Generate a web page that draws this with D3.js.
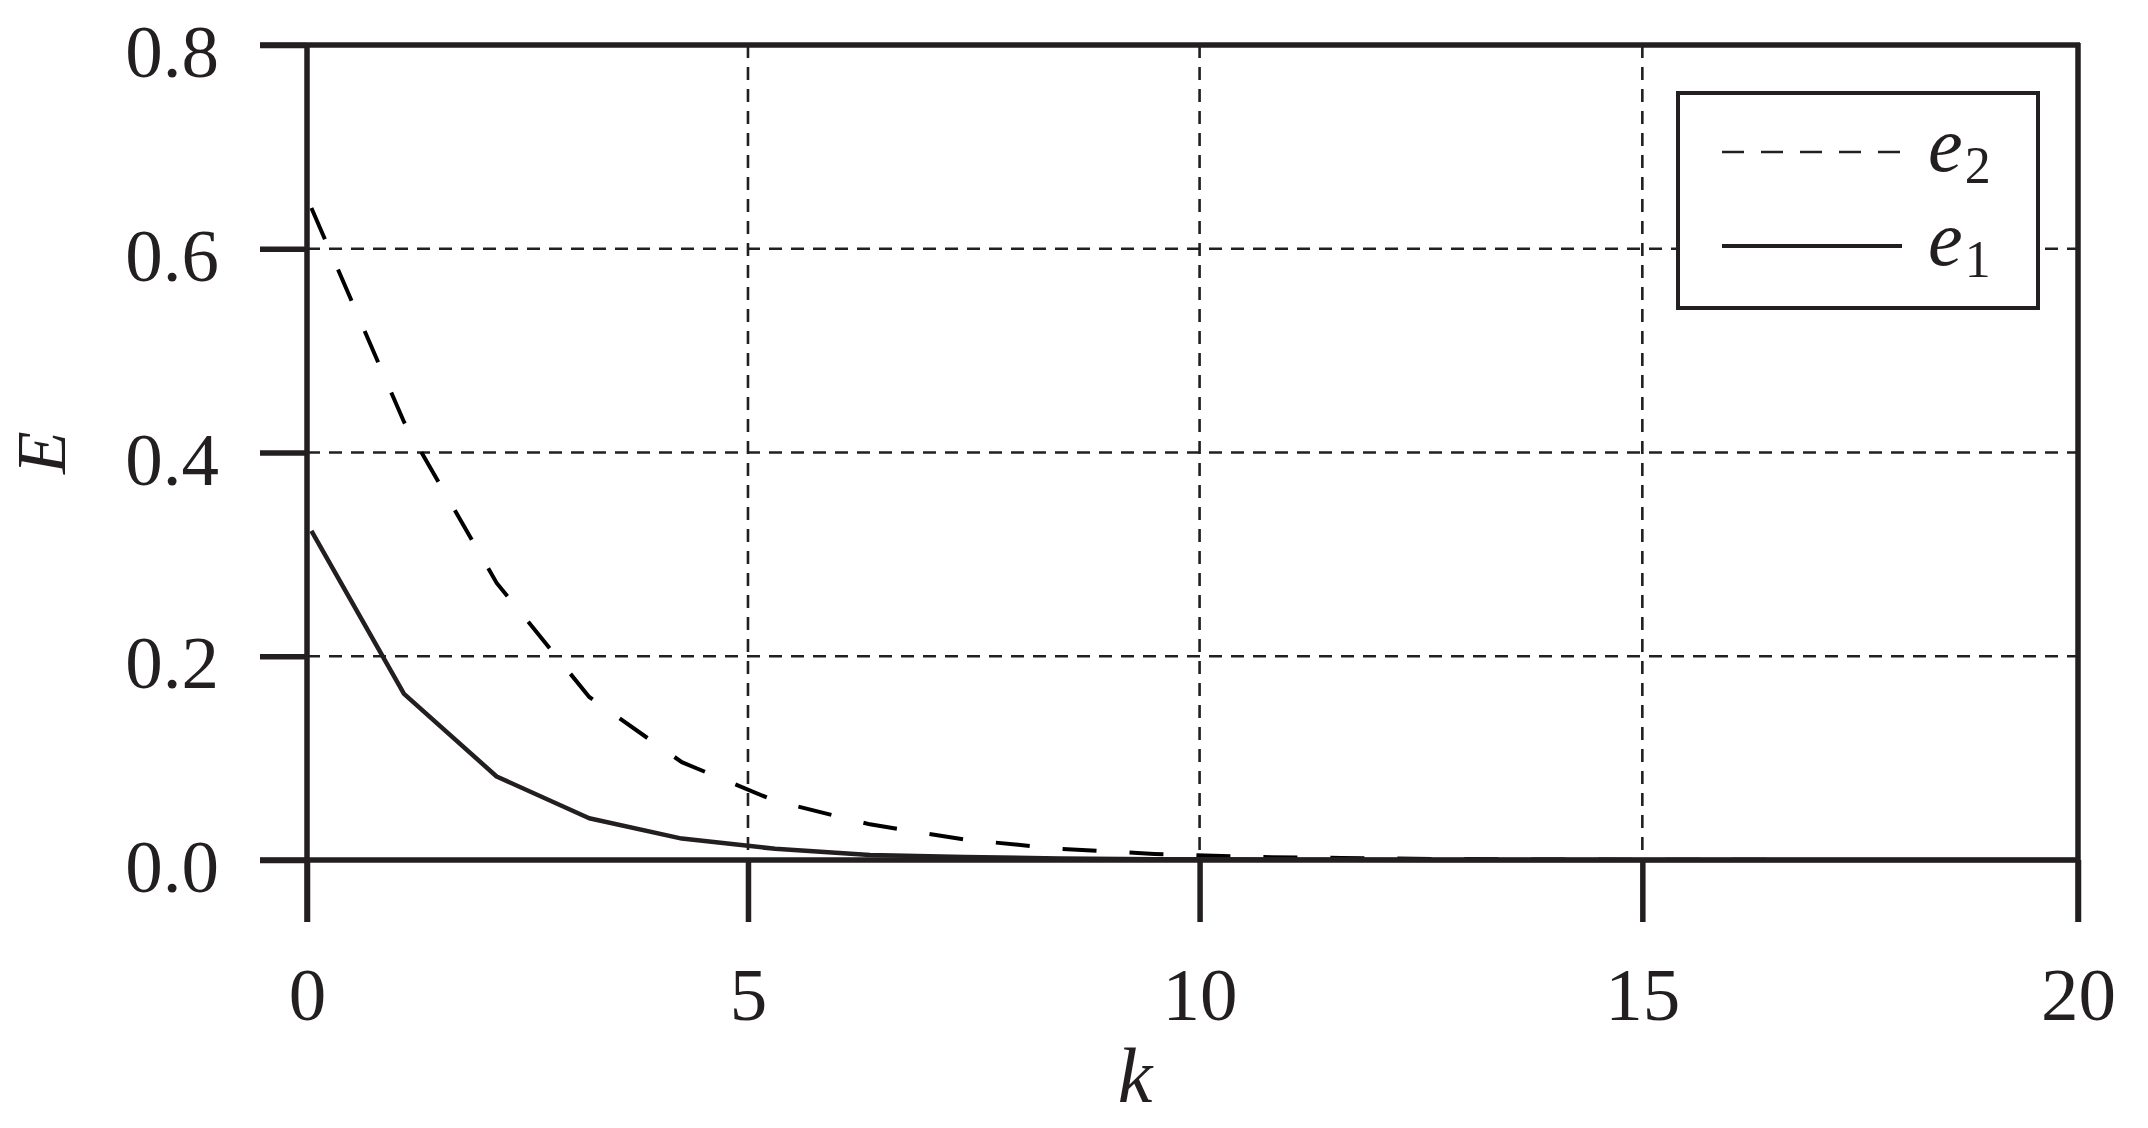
<!DOCTYPE html>
<html>
<head>
<meta charset="utf-8">
<script src="https://cdn.jsdelivr.net/npm/d3@7"></script>
<style>
    body { margin: 0; background: #fff; }
    text { font-family: 'Liberation Serif', 'Times New Roman', serif; fill: #231f20; }
</style>
</head>
<body>
<div id="chart"></div>
<script>
// Data
var kValues  = [0.05, 1.1, 2.15, 3.2, 4.25, 5.3, 6.35, 7.4, 8.45, 9.5, 10.55, 11.6, 12.65, 13.7, 14.75, 15.8, 16.85, 17.9, 18.95, 20];
var e1Values = [0.323, 0.163, 0.082, 0.041, 0.021, 0.011, 0.005, 0.003, 0.0015, 0.0008, 0.0004, 0.0002, 0.0001, 0.0001, 0, 0, 0, 0, 0, 0];
var e2Values = [0.64, 0.43, 0.272, 0.160, 0.096, 0.058, 0.035, 0.020, 0.011, 0.006, 0.003, 0.002, 0.001, 0.0006, 0.0003, 0.0002, 0.0001, 0, 0, 0];
var xTicks = [0, 5, 10, 15, 20];
var yTicks = [0, 0.2, 0.4, 0.6, 0.8];
var xGrid = [5, 10, 15];
var yGrid = [0.2, 0.4, 0.6];
var legendNames = ['2', '1'];   // subscripts of e

var ink = '#231f20';

//   Base chart space
var margin = {top: 45, right: 70, bottom: 268, left: 307},
width = 2148 - margin.left - margin.right,
height = 1128 - margin.top - margin.bottom;

var svg = d3.select('#chart').append('svg')
    .attr('width', width + margin.left + margin.right)
    .attr('height', height + margin.top + margin.bottom)
    .append('g')
    .attr('transform', 'translate(' + margin.left + ',' + margin.top + ')');

// Scales -- the original's x grid is not quite evenly spaced, so piecewise
var xScale = d3.scaleLinear()
    .domain(xTicks)
    .range([0, 0.249, 0.504, 0.754, 1].map(function(f) { return f * width; }));
var yScale = d3.scaleLinear().domain([0, 0.8]).range([height, 0]);

// Grid (dashed)
svg.selectAll('.hgrid')
    .data(yGrid)
    .enter()
    .append('line')
    .attr('class', 'hgrid')
    .attr('x1', xScale(0)).attr('x2', xScale(20))
    .attr('y1', function(d) { return yScale(d); })
    .attr('y2', function(d) { return yScale(d); })
    .style('stroke', ink).style('stroke-width', 2.6)
    .style('stroke-dasharray', '13,9');

svg.selectAll('.vgrid')
    .data(xGrid)
    .enter()
    .append('line')
    .attr('class', 'vgrid')
    .attr('y1', yScale(0.8)).attr('y2', yScale(0))
    .attr('x1', function(d) { return xScale(d); })
    .attr('x2', function(d) { return xScale(d); })
    .style('stroke', ink).style('stroke-width', 2.6)
    .style('stroke-dasharray', '13,9');

// Lines
var e1 = kValues.map(function(k, i) { return {k: k, v: e1Values[i]}; });
var e2 = kValues.map(function(k, i) { return {k: k, v: e2Values[i]}; });

var line = d3.line()
    .x(function(d) { return xScale(d.k); })
    .y(function(d) { return yScale(d.v); });

svg.append('path')
    .datum(e2)
    .attr('d', line)
    .style('fill', 'none').style('stroke', '#000')
    .style('stroke-width', 4)
    .style('stroke-dasharray', '34,33');

svg.append('path')
    .datum(e1)
    .attr('d', line)
    .style('fill', 'none').style('stroke', ink)
    .style('stroke-width', 4.5)
    .style('stroke-linejoin', 'round');

// Y axis (outward ticks), labels sit a bit below tick
var yAxis = d3.axisLeft(yScale)
    .tickValues(yTicks)
    .tickSize(47)
    .tickSizeOuter(0)
    .tickPadding(41)
    .tickFormat(d3.format('.1f'));
var gy = svg.append('g').call(yAxis);
gy.select('.domain').remove();
gy.selectAll('.tick line').style('stroke', ink).style('stroke-width', 5.5);
gy.selectAll('.tick text')
    .attr('dy', '0.42em')
    .style('font-size', '75px')
    .style('font-family', "'Liberation Serif', serif")
    .style('fill', ink);

// X axis
var xAxis = d3.axisBottom(xScale)
    .tickValues(xTicks)
    .tickSize(62)
    .tickSizeOuter(0)
    .tickPadding(45)
    .tickFormat(d3.format('d'));
var gx = svg.append('g')
    .attr('transform', 'translate(0,' + height + ')')
    .call(xAxis);
gx.select('.domain').remove();
gx.selectAll('.tick line').style('stroke', ink).style('stroke-width', 5.5);
gx.selectAll('.tick text')
    .style('font-size', '75px')
    .style('font-family', "'Liberation Serif', serif")
    .style('fill', ink);

// Frame: left + right verticals run down to tick length, top and zero lines
svg.append('line')
    .attr('x1', xScale(0)).attr('x2', xScale(0))
    .attr('y1', yScale(0.8) - 2).attr('y2', yScale(0) + 62)
    .style('stroke', ink).style('stroke-width', 5.5);
svg.append('line')
    .attr('x1', xScale(20)).attr('x2', xScale(20))
    .attr('y1', yScale(0.8) - 2).attr('y2', yScale(0) + 62)
    .style('stroke', ink).style('stroke-width', 5.5);
svg.append('line')
    .attr('x1', xScale(0) - 47).attr('x2', xScale(20) + 2)
    .attr('y1', yScale(0.8)).attr('y2', yScale(0.8))
    .style('stroke', ink).style('stroke-width', 5.5);
svg.append('line')
    .attr('x1', xScale(0) - 47).attr('x2', xScale(20) + 2)
    .attr('y1', yScale(0)).attr('y2', yScale(0))
    .style('stroke', ink).style('stroke-width', 5.5);

// Axis titles
svg.append('text')
    .attr('x', width * 0.4675)
    .attr('y', height + 242)
    .attr('text-anchor', 'middle')
    .style('font-size', '78px')
    .style('font-style', 'italic')
    .text('k');

svg.append('text')
    .attr('transform', 'translate(' + (65 - margin.left) + ',' + (height / 2) + ') rotate(-90)')
    .attr('text-anchor', 'middle')
    .style('font-size', '70px')
    .style('font-style', 'italic')
    .text('E');

// Legend
var legend = svg.append('g')
    .attr('transform', 'translate(' + (width - 400) + ',' + 48 + ')');

legend.append('rect')
    .attr('x', 0).attr('y', 0)
    .attr('width', 360).attr('height', 215)
    .style('fill', '#fff')
    .style('stroke', ink).style('stroke-width', 4);

var rows = legend.selectAll('.row')
    .data(legendNames)
    .enter()
    .append('g')
    .attr('class', 'row')
    .attr('transform', function(d, i) { return 'translate(0,' + (59 + i * 94) + ')'; });

rows.append('line')
    .attr('x1', 44).attr('x2', 224)
    .attr('y1', 0).attr('y2', 0)
    .style('stroke', ink)
    .style('stroke-width', function(d, i) { return i === 0 ? 2.6 : 4; })
    .style('stroke-dasharray', function(d, i) { return i === 0 ? '22,17' : null; });

var lbl = rows.append('text')
    .attr('x', 250)
    .attr('y', 19)
    .style('font-size', '78px');
lbl.append('tspan')
    .style('font-style', 'italic')
    .text('e');
lbl.append('tspan')
    .attr('dy', 12)
    .attr('dx', 2)
    .style('font-size', '52px')
    .text(function(d) { return d; });
</script>
</body>
</html>
